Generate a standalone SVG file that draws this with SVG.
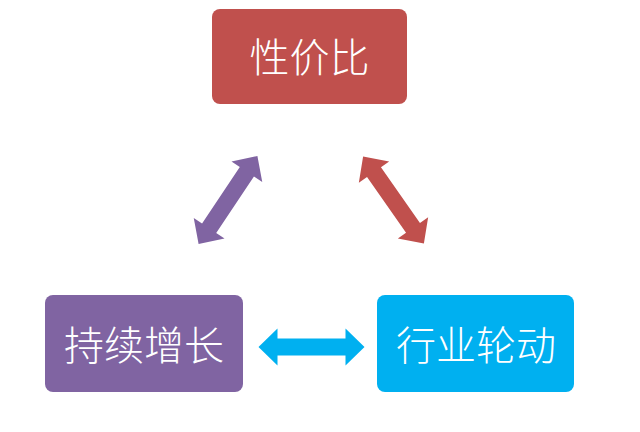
<svg xmlns="http://www.w3.org/2000/svg" width="640" height="432" viewBox="0 0 640 432">
<style>
.box{stroke:none}
.t{font-family:"Noto Sans CJK SC","Noto Sans",sans-serif;font-size:40px;fill:#ffffff;text-anchor:middle;dominant-baseline:central;font-weight:300}
</style>
<defs>
<path id="dbl" d="M-53,0 L-34,-18.5 L-34,-8.5 L34,-8.5 L34,-18.5 L53,0 L34,18.5 L34,8.5 L-34,8.5 L-34,18.5 Z"/>
</defs>
<rect width="640" height="432" fill="#ffffff"/>
<g id="node-top">
<rect class="box" x="212" y="9" width="195" height="95" rx="8" fill="#C0504D"/>
<text class="t" x="309.5" y="55">性价比</text>
</g>
<g id="node-left">
<rect class="box" x="45" y="295" width="198" height="97" rx="8" fill="#8064A2"/>
<text class="t" x="144" y="343">持续增长</text>
</g>
<g id="node-right">
<rect class="box" x="377" y="295" width="197" height="97" rx="8" fill="#00B0F0"/>
<text class="t" x="476" y="343">行业轮动</text>
</g>
<g id="connectors">
<use href="#dbl" fill="#8064A2" transform="translate(228,200) rotate(-56.3)"/>
<use href="#dbl" fill="#C0504D" transform="translate(393.5,200) rotate(55)"/>
<use href="#dbl" fill="#00B0F0" transform="translate(311.5,347)"/>
</g>
</svg>
